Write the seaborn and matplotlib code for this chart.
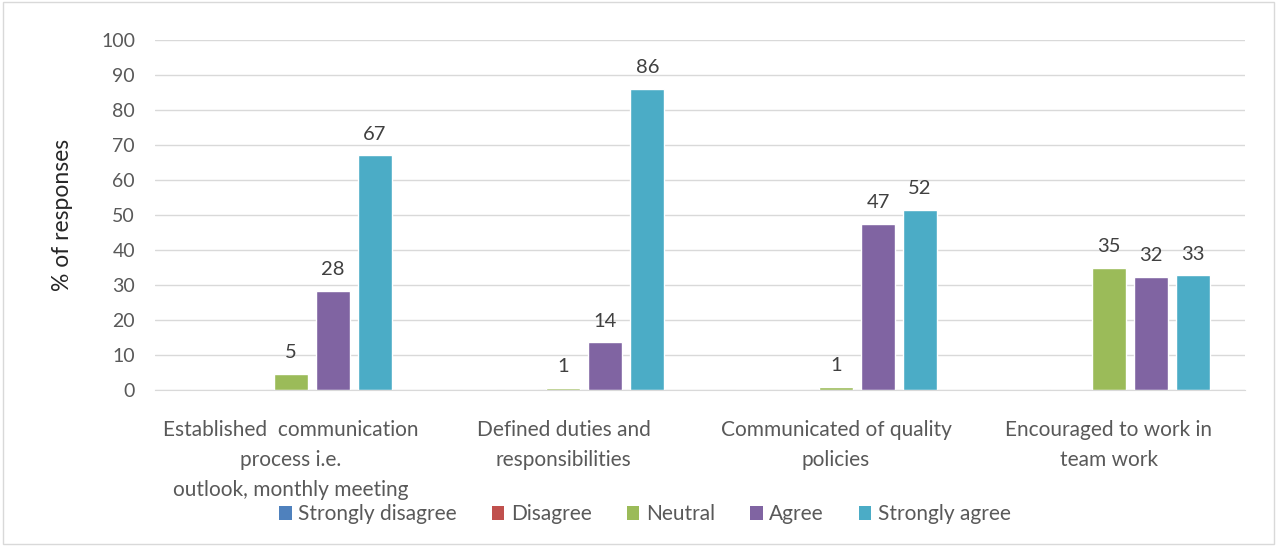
import matplotlib
matplotlib.use("Agg")
import matplotlib.pyplot as plt
import seaborn as sns
import pandas as pd
from matplotlib.patches import Patch, Rectangle

categories = [
    "Established  communication\nprocess i.e.\noutlook, monthly meeting",
    "Defined duties and\nresponsibilities",
    "Communicated of quality\npolicies",
    "Encouraged to work in\nteam work",
]
responses = ["Strongly disagree", "Disagree", "Neutral", "Agree", "Strongly agree"]
strongly_disagree = [0, 0, 0, 0]
disagree = [0, 0, 0, 0]
neutral = [4.6, 0.6, 0.9, 34.9]
agree = [28.3, 13.6, 47.4, 32.3]
strongly_agree = [67.1, 86.0, 51.5, 32.8]
colors = ["#4f81bd", "#c0504d", "#9bbb59", "#8064a2", "#4bacc6"]

series = [strongly_disagree, disagree, neutral, agree, strongly_agree]
rows = []
for resp, vals in zip(responses, series):
    for cat, v in zip(categories, vals):
        rows.append({"category": cat, "response": resp, "value": v})
df = pd.DataFrame(rows)

sns.set_style("white")
plt.rcParams["font.family"] = ["Lato", "DejaVu Sans"]
text_color = "#595959"

fig = plt.figure(figsize=(12.77, 5.46), dpi=100)
ax = fig.add_axes([0.121, 0.286, 0.854, 0.641])

sns.barplot(data=df, x="category", y="value", hue="response", hue_order=responses,
            palette=colors, width=0.77, gap=0.19, ax=ax, legend=False,
            errorbar=None, saturation=1)

for container in ax.containers:
    labels = [("%d" % round(b.get_height())) if b.get_height() > 0 else "" for b in container]
    ax.bar_label(container, labels=labels, padding=9, fontsize=14.5, color="#404040")

ax.set_ylim(0, 100)
ax.set_yticks(range(0, 101, 10))
ax.set_xlim(-0.5, 3.5)
ax.yaxis.grid(True, color="#d9d9d9", linewidth=1)
ax.set_axisbelow(True)
for s in ["top", "right", "left"]:
    ax.spines[s].set_visible(False)
ax.spines["bottom"].set_color("#d9d9d9")
ax.tick_params(axis="y", length=0, labelsize=14, colors=text_color, pad=14)
ax.tick_params(axis="x", length=0, labelsize=15, colors=text_color, pad=22)
for lab in ax.get_xticklabels():
    lab.set_linespacing(1.6)
ax.set_xlabel("")
ax.set_ylabel("% of responses", fontsize=16.5, color="#262626", labelpad=20)

handles = [Patch(facecolor=c, edgecolor="none") for c in colors]
fig.legend(handles, responses, loc="center", bbox_to_anchor=(0.505, 0.058), ncol=5,
           frameon=False, fontsize=15, handlelength=0.6, handleheight=0.6,
           handletextpad=0.3, columnspacing=1.7, labelcolor=text_color)

fig.patches.append(Rectangle((0.002, 0.004), 0.996, 0.992, transform=fig.transFigure,
                             fill=False, edgecolor="#d9d9d9", linewidth=1))

fig.savefig("out.png", dpi=100)
